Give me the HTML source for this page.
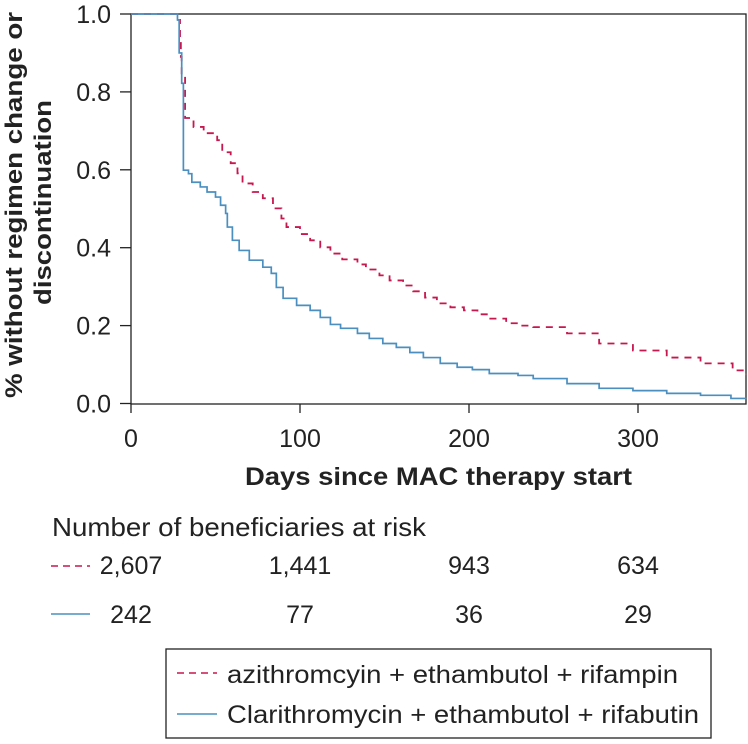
<!DOCTYPE html>
<html><head><meta charset="utf-8"><style>
body{margin:0;background:#fff;width:748px;height:739px;overflow:hidden;font-family:"Liberation Sans",sans-serif}
text{font-family:"Liberation Sans",sans-serif;fill:#222}
</style></head><body>
<svg width="748" height="739">
<g id="axes"></g><g id="series"></g>
<text x="245" y="485" font-weight="bold" font-size="25" textLength="387" lengthAdjust="spacingAndGlyphs">Days since MAC therapy start</text>
<text transform="translate(22,398) rotate(-90)" font-weight="bold" font-size="24" textLength="386" lengthAdjust="spacingAndGlyphs">% without regimen change or</text>
<text transform="translate(51,305) rotate(-90)" font-weight="bold" font-size="24" textLength="205" lengthAdjust="spacingAndGlyphs">discontinuation</text>
<text x="52" y="536" font-size="26" textLength="374" lengthAdjust="spacingAndGlyphs">Number of beneficiaries at risk</text>
<line x1="51" y1="566" x2="90" y2="566" stroke="#c8174f" stroke-width="1.6" stroke-dasharray="7,5"/>
<line x1="51" y1="614" x2="90" y2="614" stroke="#4a8fc0" stroke-width="1.6"/>
<g id="risk"></g>
<rect x="166" y="649" width="545" height="89" fill="none" stroke="#222" stroke-width="1.3"/>
<line x1="177" y1="673" x2="217" y2="673" stroke="#c8174f" stroke-width="1.6" stroke-dasharray="7,5"/>
<text x="227" y="683" font-size="25" textLength="451" lengthAdjust="spacingAndGlyphs">azithromcyin + ethambutol + rifampin</text>
<line x1="177" y1="714" x2="217" y2="714" stroke="#4a8fc0" stroke-width="1.6"/>
<text x="227" y="723" font-size="25" textLength="472" lengthAdjust="spacingAndGlyphs">Clarithromycin + ethambutol + rifabutin</text>
</svg>
<script>
const xTicks=[0,100,200,300];
const yTicks=[0,0.2,0.4,0.6,0.8,1.0];
const yTickLabels=["0.0","0.2","0.4","0.6","0.8","1.0"];
const azDays=[0,27,29,29.5,30,32,37,43,51,54,59,63,66,72,78,84,89,92,100,106,112,118,125,134,139,147,153,161,167,174,181,189,197,205,212,222,229,238,258,277,297,317,337,356,362];
const azVals=[1.0,0.985,0.933,0.89,0.84,0.733,0.71,0.694,0.676,0.645,0.617,0.591,0.565,0.543,0.527,0.501,0.475,0.453,0.435,0.419,0.401,0.385,0.370,0.357,0.344,0.329,0.316,0.303,0.288,0.272,0.257,0.247,0.239,0.229,0.218,0.206,0.200,0.196,0.180,0.154,0.136,0.118,0.103,0.085,0.075];
const clDays=[0,27.5,28.5,30,31,34,36,41,45,50,53,56,57,60,64,70,78,83,86,90,98,106,112,118,124,134,141,149,157,165,173,183,193,202,212,229,238,258,277,297,317,337,355];
const clVals=[1.0,0.985,0.90,0.822,0.599,0.59,0.568,0.556,0.543,0.53,0.509,0.488,0.453,0.419,0.393,0.368,0.350,0.334,0.298,0.270,0.252,0.239,0.221,0.203,0.193,0.180,0.167,0.154,0.144,0.131,0.118,0.103,0.093,0.087,0.077,0.072,0.064,0.051,0.039,0.033,0.026,0.021,0.013];
const riskDays=[0,100,200,300];
const riskAz=["2,607","1,441","943","634"];
const riskCl=["242","77","36","29"];
const X=d=>131+d*1.69, Y=v=>403.5-v*389.5;
const NS="http://www.w3.org/2000/svg";
function mk(t,a,p){const e=document.createElementNS(NS,t);for(const k in a)e.setAttribute(k,a[k]);p.appendChild(e);return e;}
const ax=document.getElementById('axes');
const frame=mk('rect',{x:131,y:14,width:615,height:390,fill:'none',stroke:'#222','stroke-width':1.3},ax);


xTicks.forEach(t=>{
 const l=mk('line',{x1:X(t),x2:X(t),y1:404,y2:413,stroke:'#222','stroke-width':1.3},ax);
 
 
 const tx=mk('text',{x:X(t),y:447,'text-anchor':'middle','font-size':25},ax);tx.textContent=t;
 
 
});
yTicks.forEach((t,i)=>{
 const l=mk('line',{x1:120,x2:131,y1:Y(t),y2:Y(t),stroke:'#222','stroke-width':1.3},ax);
 
 
 const tx=mk('text',{x:111,y:Y(t)+9,'text-anchor':'end','font-size':25},ax);tx.textContent=yTickLabels[i];
 
 
});
function step(ds,vs){let d='M'+X(ds[0])+','+Y(vs[0]);for(let i=1;i<ds.length;i++){d+=' H'+X(ds[i])+' V'+Y(vs[i]);}d+=' H'+X(364);return d;}
const sg=document.getElementById('series');
const pa=mk('path',{d:step(azDays,azVals),fill:'none',stroke:'#c8174f','stroke-width':1.8,'stroke-dasharray':'7,6'},sg);


const pc=mk('path',{d:step(clDays,clVals),fill:'none',stroke:'#4a8fc0','stroke-width':1.7},sg);


const rg=document.getElementById('risk');
riskDays.forEach((d,i)=>{
 const a=mk('text',{x:X(d),y:574,'text-anchor':'middle','font-size':25},rg);a.textContent=riskAz[i];
 
 
 const c=mk('text',{x:X(d),y:623,'text-anchor':'middle','font-size':25},rg);c.textContent=riskCl[i];
 
 
});
</script>
</body></html>
